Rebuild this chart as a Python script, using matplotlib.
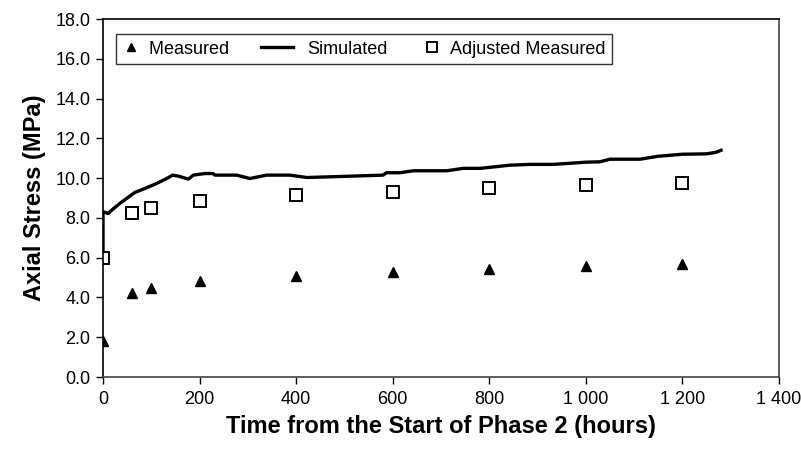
import matplotlib
matplotlib.use("Agg")
import matplotlib.pyplot as plt
from matplotlib.ticker import FuncFormatter, MultipleLocator
from matplotlib.legend_handler import HandlerLine2D

plt.rcParams['font.family'] = ['Liberation Sans', 'DejaVu Sans']

# Measured and adjusted measured stresses
meas_time = [0, 60, 100, 200, 400, 600, 800, 1000, 1200]
measured = [1.8, 4.2, 4.49, 4.84, 5.09, 5.26, 5.43, 5.59, 5.68]
adjusted = [6.0, 8.26, 8.51, 8.86, 9.15, 9.31, 9.48, 9.65, 9.73]

# Simulated stress history
sim_time = [0, 0, 2, 11, 18, 35, 66, 87, 111, 132, 144, 156, 177, 187, 211,
            228, 232, 277, 304, 339, 387, 422, 477, 580, 587, 615, 643, 712,
            746, 781, 843, 884, 932, 1000, 1029, 1050, 1112, 1150, 1200, 1250,
            1270, 1280]
simulated = [6.0, 8.22, 8.3, 8.22, 8.39, 8.73, 9.28, 9.48, 9.73, 9.98, 10.15,
             10.1, 9.95, 10.15, 10.23, 10.23, 10.15, 10.15, 9.98, 10.15, 10.15,
             10.03, 10.07, 10.15, 10.27, 10.27, 10.37, 10.37, 10.49, 10.49,
             10.65, 10.69, 10.69, 10.8, 10.82, 10.95, 10.95, 11.1, 11.2, 11.22,
             11.3, 11.4]

x_ticks = [0, 200, 400, 600, 800, 1000, 1200, 1400]


class LongLineHandler(HandlerLine2D):
    """Legend key drawn as a line of fixed length ending near the label."""

    def __init__(self, length_pt, end_trim_pt, **kw):
        super().__init__(**kw)
        self.length_pt = length_pt
        self.end_trim_pt = end_trim_pt

    def create_artists(self, legend, orig_handle, xdescent, ydescent, width,
                       height, fontsize, trans):
        artists = super().create_artists(legend, orig_handle, xdescent,
                                         ydescent, width, height, fontsize,
                                         trans)
        right = -xdescent + width - self.end_trim_pt
        left = right - self.length_pt
        for a in artists:
            xd = a.get_xdata()
            if len(xd) >= 2:
                a.set_xdata([left, (left + right) / 2, right][:len(xd)])
        return artists


fig = plt.figure(figsize=(8.01, 4.49), dpi=100)
ax = fig.add_axes([103 / 801, 1 - 377 / 449, 676 / 801, 358 / 449])

h_meas, = ax.plot(meas_time, measured, linestyle='none', marker='^',
                  color='black', markersize=7.5, label='Measured')
h_sim, = ax.plot(sim_time, simulated, color='black', linewidth=2.4,
                 label='Simulated')
h_adj, = ax.plot(meas_time, adjusted, linestyle='none', marker='s',
                 markersize=8.5, markerfacecolor='white',
                 markeredgecolor='black', markeredgewidth=1.4,
                 label='Adjusted Measured')

ax.set_xlim(0, 1400)
ax.set_ylim(0, 18)
ax.set_xticks(x_ticks)
ax.yaxis.set_major_locator(MultipleLocator(2))
ax.xaxis.set_major_formatter(FuncFormatter(lambda v, p: f"{int(v):,}".replace(",", " ")))
ax.yaxis.set_major_formatter(FuncFormatter(lambda v, p: f"{v:.1f}"))
ax.tick_params(axis='both', direction='out', length=5, width=1,
               labelsize=13, colors='black')
ax.tick_params(axis='x', pad=5)
ax.tick_params(axis='y', pad=4)

for side in ['left', 'top']:
    ax.spines[side].set_color('black')
for side in ['right', 'bottom']:
    ax.spines[side].set_color('#444444')
for s in ax.spines.values():
    s.set_linewidth(1.2)

ax.set_xlabel('Time from the Start of Phase 2 (hours)', fontsize=17,
              fontweight='bold', labelpad=5)
ax.set_ylabel('Axial Stress (MPa)', fontsize=17, fontweight='bold', labelpad=7)

leg = ax.legend([h_meas, h_sim, h_adj],
                ['Measured' + '\u00a0' * 3, 'Simulated', 'Adjusted Measured'],
                loc='upper left', bbox_to_anchor=(116 / 801, 1 - 34 / 449),
                bbox_transform=fig.transFigure, ncol=3, frameon=True,
                fancybox=False, edgecolor='black', fontsize=13,
                borderaxespad=0, handlelength=0.9, columnspacing=2.0,
                handletextpad=0.58, borderpad=0.36,
                handler_map={h_sim: LongLineHandler(length_pt=23,
                                                    end_trim_pt=2.5)})
leg.get_frame().set_linewidth(1.0)
leg.legend_handles[0].set_markersize(6)
leg.legend_handles[2].set_markersize(7)

fig.savefig('out.png', dpi=100)
